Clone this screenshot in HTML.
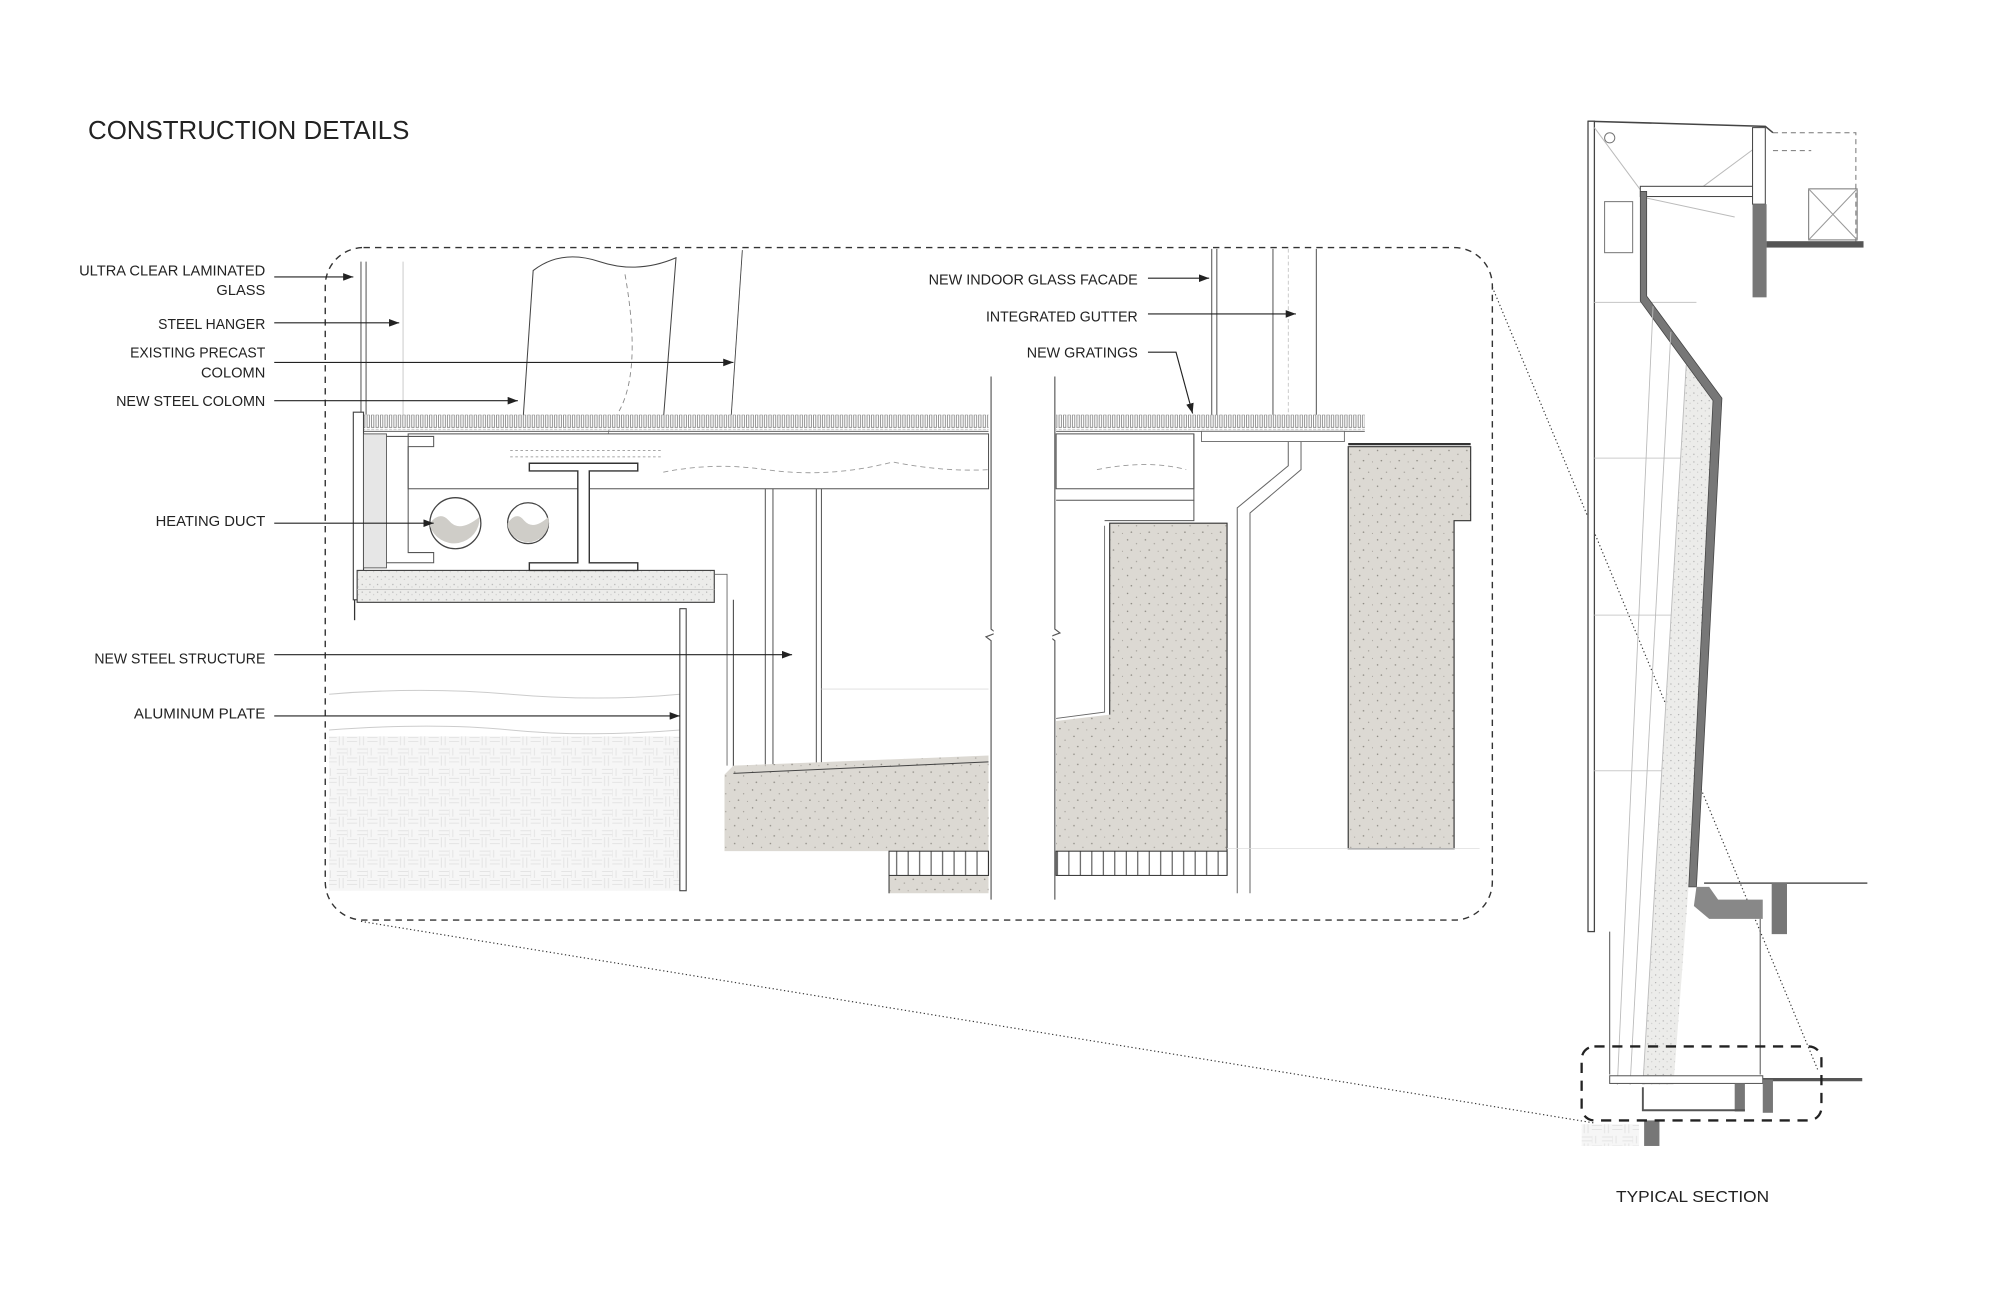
<!DOCTYPE html>
<html><head><meta charset="utf-8"><style>
html,body{margin:0;padding:0;background:#fff;}
svg{display:block;}
text{font-family:"Liberation Sans",sans-serif;fill:#222;}
</style></head><body>
<svg width="2000" height="1294" viewBox="0 0 1568 1014" preserveAspectRatio="none" xmlns="http://www.w3.org/2000/svg">
<defs>
<pattern id="conc" width="14" height="14" patternUnits="userSpaceOnUse">
<rect width="14" height="14" fill="#dcd9d3"/>
<circle cx="2" cy="3" r="0.6" fill="#8a8780"/><circle cx="9" cy="6" r="0.5" fill="#9a968f"/>
<circle cx="5" cy="11" r="0.6" fill="#8a8780"/><circle cx="12" cy="12" r="0.4" fill="#9a968f"/>
</pattern>
<pattern id="ins" width="6" height="6" patternUnits="userSpaceOnUse">
<rect width="6" height="6" fill="#ececea"/><circle cx="2" cy="2" r="0.5" fill="#aaa"/><circle cx="5" cy="4" r="0.4" fill="#bbb"/>
</pattern>
<pattern id="hatch" width="16" height="16" patternUnits="userSpaceOnUse">
<rect width="16" height="16" fill="#f6f6f6"/>
<path d="M0 2H8M0 5H8M10 0V8M13 0V8M0 10V16M3 10V16M8 11H16M8 14H16" stroke="#e2e2e2" stroke-width="0.7"/>
</pattern>
<pattern id="grat" width="3.5" height="12" patternUnits="userSpaceOnUse">
<rect width="3.5" height="12" fill="#fff"/><rect x="0.8" y="1" width="1.8" height="10" fill="none" stroke="#777" stroke-width="0.6"/>
</pattern>
<pattern id="brick" width="9" height="18" patternUnits="userSpaceOnUse">
<rect width="9" height="18" fill="#fff"/><path d="M1 0V18" stroke="#444" stroke-width="0.8"/>
</pattern>
<marker id="ar" markerWidth="8" markerHeight="6" refX="8" refY="3" orient="auto" markerUnits="userSpaceOnUse"><path d="M0 0L8 3L0 6z" fill="#222"/></marker>
</defs>

<text x="69" y="109" font-size="20" textLength="252" lengthAdjust="spacingAndGlyphs">CONSTRUCTION DETAILS</text>

<rect x="255" y="194" width="915" height="527" rx="30" fill="none" stroke="#333" stroke-width="1.1" stroke-dasharray="5,4"/>

<rect x="258" y="577" width="275" height="121" fill="url(#hatch)"/>
<path d="M258 544 Q330 538 400 544 T533 544 L533 572 Q460 578 400 572 T258 572" fill="none" stroke="#ccc" stroke-width="0.8"/>

<path d="M410 330 L418 212 Q440 195 470 205 Q500 215 530 202 L520 330" fill="#fff" stroke="#444" stroke-width="0.8"/>
<path d="M490 215 Q505 300 480 330 Q470 350 490 370" fill="none" stroke="#888" stroke-width="0.7" stroke-dasharray="4,3"/>
<path d="M582 196 L573 330" stroke="#444" stroke-width="0.7"/>
<path d="M283 205 V325 M287 205 V325" stroke="#555" stroke-width="0.8"/>
<path d="M316 205 V325" stroke="#ccc" stroke-width="0.8"/>

<rect x="283" y="325" width="492" height="12" fill="url(#grat)"/>
<rect x="828" y="325" width="242" height="12" fill="url(#grat)"/>
<path d="M283 338H775 M828 338H1070" stroke="#666" stroke-width="0.8"/>

<rect x="320" y="340" width="455" height="43" fill="#fff" stroke="#555" stroke-width="0.8"/>
<rect x="828" y="340" width="108" height="43" fill="#fff" stroke="#555" stroke-width="0.8"/>
<path d="M936 340 V392 H828" fill="none" stroke="#555" stroke-width="0.8"/>
<path d="M400 353H520 M400 358H520" stroke="#888" stroke-width="0.6" stroke-dasharray="2,2"/>
<path d="M520 370 Q560 362 600 368 Q650 375 700 362 Q740 370 775 368 M860 368 Q900 360 930 368" fill="none" stroke="#999" stroke-width="0.7" stroke-dasharray="4,3"/>

<rect x="277" y="323" width="8" height="147" fill="#fff" stroke="#444" stroke-width="0.9"/>
<rect x="285" y="340" width="18" height="105" fill="#e6e6e6" stroke="#555" stroke-width="0.7"/>
<path d="M303 342 H340 V350 H320 V433 H340 V441 H303" fill="none" stroke="#555" stroke-width="0.8"/>
<rect x="280" y="447" width="280" height="25" fill="url(#ins)" stroke="#444" stroke-width="0.9"/>
<path d="M280 462 H560" stroke="#bbb" stroke-width="0.6"/>
<path d="M278 470V486" stroke="#333" stroke-width="1"/>

<path d="M415 363H500V369H462V441H500V447H415V441H453V369H415Z" fill="#fff" stroke="#333" stroke-width="1.1"/>

<circle cx="357" cy="410" r="20" fill="#fff" stroke="#444" stroke-width="1"/>
<path d="M337 410 Q345 400 352 408 Q360 418 376 405 A20 20 0 0 1 337 412Z" fill="#cfcdc8"/>
<circle cx="414" cy="410" r="16" fill="#fff" stroke="#444" stroke-width="1"/>
<path d="M398 410 Q405 400 411 408 Q418 416 430 405 A16 16 0 0 1 398 412Z" fill="#cfcdc8"/>

<rect x="533" y="477" width="5" height="221" fill="#fff" stroke="#333" stroke-width="0.8"/>
<path d="M538 477V698 M560 450H570V600" fill="none" stroke="#666" stroke-width="0.7"/>
<path d="M575 470V605" stroke="#555" stroke-width="0.9"/>
<path d="M600 383V600 M606 383V600 M640 383V600 M644 383V600" stroke="#555" stroke-width="0.8"/>
<path d="M644 540H775" stroke="#ddd" stroke-width="0.7"/>

<path d="M568 607 L575 600 L775 592 V700 H697 V667 H568 Z" fill="url(#conc)"/>
<path d="M575 606 L775 597" stroke="#444" stroke-width="0.8"/>
<rect x="697" y="667" width="78" height="19" fill="url(#brick)" stroke="#333" stroke-width="0.8"/>
<path d="M697 686V700" stroke="#333" stroke-width="0.8"/>

<path d="M828 565 L870 560 V410 H962 V667 H828 Z" fill="url(#conc)"/>
<path d="M870 560 V410 H962 V686" fill="none" stroke="#333" stroke-width="0.9"/>
<path d="M866 412 V558 L828 563" fill="none" stroke="#666" stroke-width="0.7"/>
<path d="M866 408 H936 V392" fill="none" stroke="#555" stroke-width="0.8"/>
<rect x="828" y="667" width="134" height="19" fill="url(#brick)" stroke="#333" stroke-width="0.8"/>

<path d="M998 195 V325 M1032 195 V325" stroke="#555" stroke-width="0.8"/>
<path d="M1010 195 V325" stroke="#bbb" stroke-width="0.6" stroke-dasharray="3,2"/>
<path d="M950 195 V325 M954 195 V325" stroke="#555" stroke-width="0.8"/>
<rect x="942" y="338" width="112" height="8" fill="#fff" stroke="#666" stroke-width="0.7"/>
<path d="M1020 346 V368 L980 402 V700 M1010 346 V365 L970 398 V700" fill="none" stroke="#666" stroke-width="0.8"/>

<path d="M1057 350 H1153 V408 H1140 V665 H1057 Z" fill="url(#conc)" stroke="#333" stroke-width="0.9"/>
<path d="M1057 348 H1153" stroke="#333" stroke-width="1.8"/>
<path d="M962 665 H1160" stroke="#ddd" stroke-width="0.6"/>

<path d="M777 295 V493 L781 496 L773 499 L777 502 V705" fill="none" stroke="#555" stroke-width="0.9"/>
<path d="M827 295 V493 L831 496 L823 499 L827 502 V705" fill="none" stroke="#555" stroke-width="0.9"/>
<rect x="779" y="293" width="46" height="415" fill="#fff"/>

<g font-size="11.5" text-anchor="end">
<text x="208" y="216" textLength="146" lengthAdjust="spacingAndGlyphs">ULTRA CLEAR LAMINATED</text>
<text x="208" y="231">GLASS</text>
<text x="208" y="258" textLength="84" lengthAdjust="spacingAndGlyphs">STEEL HANGER</text>
<text x="208" y="280" textLength="106" lengthAdjust="spacingAndGlyphs">EXISTING PRECAST</text>
<text x="208" y="296">COLOMN</text>
<text x="208" y="318" textLength="117" lengthAdjust="spacingAndGlyphs">NEW STEEL COLOMN</text>
<text x="208" y="412" textLength="86" lengthAdjust="spacingAndGlyphs">HEATING DUCT</text>
<text x="208" y="520" textLength="134" lengthAdjust="spacingAndGlyphs">NEW STEEL STRUCTURE</text>
<text x="208" y="563" textLength="103" lengthAdjust="spacingAndGlyphs">ALUMINUM PLATE</text>
<text x="892" y="223" textLength="164" lengthAdjust="spacingAndGlyphs">NEW INDOOR GLASS FACADE</text>
<text x="892" y="252" textLength="119" lengthAdjust="spacingAndGlyphs">INTEGRATED GUTTER</text>
<text x="892" y="280" textLength="87" lengthAdjust="spacingAndGlyphs">NEW GRATINGS</text>
</g>
<g stroke="#222" stroke-width="0.9" fill="none" marker-end="url(#ar)">
<path d="M215 217H277"/><path d="M215 253H313"/><path d="M215 284H575"/><path d="M215 314H406"/>
<path d="M215 410H340"/><path d="M215 513H621"/><path d="M215 561H533"/>
<path d="M900 218H948"/><path d="M900 246H1016"/><path d="M900 276H922L935 324"/>
</g>

<path d="M283 722 L1250 880" stroke="#333" stroke-width="0.9" stroke-dasharray="1,2"/>
<path d="M1170 225 L1425 838" stroke="#333" stroke-width="0.9" stroke-dasharray="1,2"/>

<g stroke="#444" fill="none" stroke-width="0.8">
<path d="M1245 95 L1384 99 L1390 104" stroke-width="1.2"/>
<rect x="1245" y="95" width="5" height="635" fill="#fff" stroke-width="1"/>
<path d="M1250 237H1330 M1250 359H1325 M1250 482H1318 M1250 604H1312" stroke="#ccc"/>
<path d="M1250 100 L1287 150 M1330 150 L1384 110 M1290 155 L1360 170" stroke="#bbb"/>
<rect x="1258" y="158" width="22" height="40" stroke="#777"/>
<circle cx="1262" cy="108" r="4" stroke="#777"/>
<rect x="1286" y="146" width="92" height="8" fill="#fff"/>
<rect x="1374" y="100" width="10" height="60" fill="#fff"/>
<path d="M1390 104H1455V190 M1390 118H1420" stroke="#777" stroke-dasharray="4,3"/>
<rect x="1418" y="148" width="38" height="40" stroke="#777"/>
<path d="M1418 148L1456 188M1456 148L1418 188" stroke="#999"/>
</g>
<path d="M1322 286 L1347 313 L1324 692 L1312 850 L1288 850 Z" fill="url(#ins)"/>
<path d="M1286 150 H1291 V232 L1350 312 L1330 695 H1324 L1343 314 L1286 236 Z" fill="#777" stroke="#444" stroke-width="0.6"/>
<path d="M1322 286 L1288 850 M1296 240 L1268 850 M1310 260 L1278 850" stroke="#bbb" stroke-width="0.7" fill="none"/>
<rect x="1374" y="160" width="11" height="73" fill="#777"/>
<rect x="1385" y="189" width="76" height="5" fill="#555"/>
<path d="M1330 695 H1340 L1347 705 H1382 V720 H1340 L1328 710 Z" fill="#888"/>
<path d="M1336 692 H1464" stroke="#555" stroke-width="1.2"/>
<rect x="1389" y="692" width="12" height="40" fill="#777"/>
<path d="M1262 730 V842 M1380 720 V842" stroke="#555" stroke-width="0.8"/>
<rect x="1262" y="843" width="120" height="6" fill="#fff" stroke="#555" stroke-width="0.8"/>
<path d="M1382 846 H1460" stroke="#555" stroke-width="2.5"/>
<rect x="1382" y="846" width="8" height="26" fill="#777"/>
<rect x="1360" y="849" width="8" height="22" fill="#777"/>
<path d="M1288 852 V870 H1368" stroke="#555" stroke-width="1.5" fill="none"/>
<rect x="1289" y="878" width="12" height="20" fill="#777"/>
<rect x="1240" y="881" width="45" height="17" fill="url(#hatch)"/>
<rect x="1240" y="820" width="188" height="58" rx="10" fill="none" stroke="#222" stroke-width="1.8" stroke-dasharray="8,6"/>
<text x="1327" y="942" font-size="12.5" text-anchor="middle" textLength="120" lengthAdjust="spacingAndGlyphs">TYPICAL SECTION</text>
</svg>
</body></html>
